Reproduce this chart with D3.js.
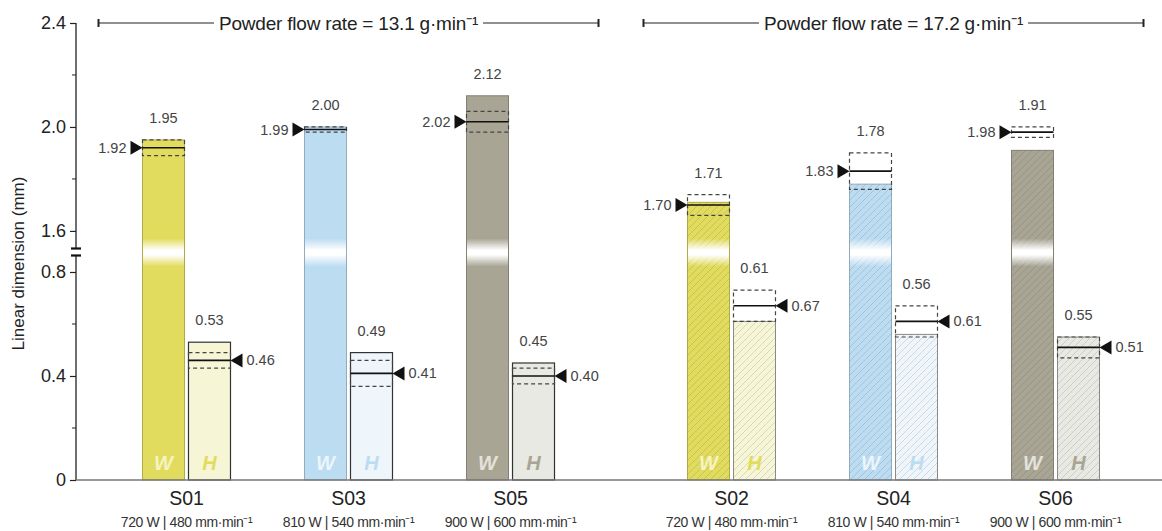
<!DOCTYPE html>
<html><head><meta charset="utf-8">
<script src="https://cdn.jsdelivr.net/npm/d3@7"></script>
<style>
body{margin:0;background:#fff}
text{font-family:"Liberation Sans", Arial, Helvetica, sans-serif}
</style>
</head><body><svg id="c" width="1162" height="531"></svg>
<script>
// ---------- data ----------
const flowRates = ["13.1", "17.2"];
const samples = ["S01", "S03", "S05", "S02", "S04", "S06"];
const sampleFlow = ["13.1", "13.1", "13.1", "17.2", "17.2", "17.2"];
const settings = ["720 W | 480 mm·min⁻¹", "810 W | 540 mm·min⁻¹", "900 W | 600 mm·min⁻¹",
                  "720 W | 480 mm·min⁻¹", "810 W | 540 mm·min⁻¹", "900 W | 600 mm·min⁻¹"];
const measuredW = [1.95, 2.00, 2.12, 1.71, 1.78, 1.91];
const measuredH = [0.53, 0.49, 0.45, 0.61, 0.56, 0.55];
const predictedW = [1.92, 1.99, 2.02, 1.70, 1.83, 1.98];
const predictedH = [0.46, 0.41, 0.40, 0.67, 0.61, 0.51];
const sdW = [0.03, 0.01, 0.04, 0.04, 0.07, 0.02];
const sdH = [0.03, 0.05, 0.03, 0.06, 0.06, 0.04];
const majorTicks = [0, 0.4, 0.8, 1.6, 2.0, 2.4];
const tickLabels = ["0", "0.4", "0.8", "1.6", "2.0", "2.4"];
const minorTicks = [0.2, 0.6, 1.8, 2.2];
const breakLow = 0.875, breakHigh = 1.517;

// ---------- styles ----------
const palW = ["#e2dc5e", "#bcdcf2", "#a8a594"];
const palH = ["#f6f6d7", "#eef6fc", "#e9e9e4"];
const palLetterW = ["#f6f3c2", "#ebf5fc", "#e4e2da"];

const svg = d3.select("#c");
const defs = svg.append("defs");
const hatch = defs.append("pattern").attr("id", "hatch").attr("patternUnits", "userSpaceOnUse")
  .attr("width", 7).attr("height", 7);
hatch.append("path").attr("d", "M-1,1 L1,-1 M0,7 L7,0 M6,8 L8,6")
  .attr("stroke", "rgba(60,60,60,0.2)").attr("stroke-width", 0.8);
const grad = defs.append("linearGradient").attr("id", "brk").attr("x1", 0).attr("x2", 0).attr("y1", 0).attr("y2", 1);
grad.append("stop").attr("offset", "0%").attr("stop-color", "#fff").attr("stop-opacity", 0);
grad.append("stop").attr("offset", "42%").attr("stop-color", "#fff").attr("stop-opacity", 1);
grad.append("stop").attr("offset", "58%").attr("stop-color", "#fff").attr("stop-opacity", 1);
grad.append("stop").attr("offset", "100%").attr("stop-color", "#fff").attr("stop-opacity", 0);

// ---------- scales ----------
const y = d3.scaleLinear().domain([0, breakLow, breakHigh, 2.4]).range([480, 252.5, 252.5, 23]);
const xOuter = d3.scaleBand().domain(flowRates).range([76, 1166]);
const xInner = d3.scaleBand().domain([0, 1, 2]).range([0, xOuter.bandwidth()]).paddingOuter(0.182).paddingInner(0);
const cx = i => xOuter(sampleFlow[i]) + xInner(i % 3) + xInner.bandwidth() / 2;
const barW = 42, gap = 2;

// ---------- axis ----------
const ax = 76;
const yAxis = d3.axisLeft(y).tickValues(majorTicks).tickSize(6)
  .tickFormat((d, i) => tickLabels[i]);
const gAx = svg.append("g").attr("transform", `translate(${ax},0)`).call(yAxis);
gAx.select(".domain").remove();
gAx.selectAll(".tick line").attr("stroke", "#222").attr("stroke-width", 1.2);
gAx.selectAll(".tick text").attr("font-size", 18).attr("fill", "#222").attr("x", -10)
  .attr("font-family", "Liberation Sans, Arial, sans-serif");
svg.append("g").selectAll("line").data(minorTicks).join("line")
  .attr("x1", ax - 4).attr("x2", ax).attr("y1", d => y(d)).attr("y2", d => y(d))
  .attr("stroke", "#222").attr("stroke-width", 1);
const yb = y(breakLow);
svg.append("line").attr("x1", ax).attr("x2", ax).attr("y1", y(2.4)).attr("y2", yb - 4)
  .attr("stroke", "#222").attr("stroke-width", 1.3);
svg.append("line").attr("x1", ax).attr("x2", ax).attr("y1", yb + 3).attr("y2", y(0))
  .attr("stroke", "#222").attr("stroke-width", 1.3);
[yb - 4, yb + 3].forEach(v => svg.append("line").attr("x1", ax - 5).attr("x2", ax + 5)
  .attr("y1", v).attr("y2", v).attr("stroke", "#111").attr("stroke-width", 2.2));
svg.append("text").attr("transform", `translate(24,${(y(2.4) + y(0)) / 2 + 12}) rotate(-90)`)
  .attr("text-anchor", "middle").attr("font-size", 17).attr("fill", "#222")
  .text("Linear dimension (mm)");

// ---------- bars ----------
const gBars = svg.append("g");
samples.forEach((s, i) => {
  const c = cx(i), k = i % 3, hatched = sampleFlow[i] === "17.2";
  const xw = c - gap - barW, xh = c + gap;
  // W bar
  gBars.append("rect").attr("x", xw).attr("y", y(measuredW[i])).attr("width", barW)
    .attr("height", y(0) - y(measuredW[i])).attr("fill", palW[k])
    .attr("stroke", d3.color(palW[k]).darker(0.7)).attr("stroke-width", 1);
  if (hatched) gBars.append("rect").attr("x", xw).attr("y", y(measuredW[i])).attr("width", barW)
    .attr("height", y(0) - y(measuredW[i])).attr("fill", "url(#hatch)");
  gBars.append("rect").attr("x", xw + 0.5).attr("y", yb - 14).attr("width", barW - 1)
    .attr("height", 28).attr("fill", "url(#brk)");
  // H bar
  gBars.append("rect").attr("x", xh).attr("y", y(measuredH[i])).attr("width", barW)
    .attr("height", y(0) - y(measuredH[i])).attr("fill", palH[k])
    .attr("stroke", hatched ? "#8a8a8a" : "#333").attr("stroke-width", hatched ? 1 : 1.2);
  if (hatched) gBars.append("rect").attr("x", xh).attr("y", y(measuredH[i])).attr("width", barW)
    .attr("height", y(0) - y(measuredH[i])).attr("fill", "url(#hatch)");
  // letters
  gBars.append("text").attr("x", xw + barW / 2).attr("y", 470).attr("text-anchor", "middle")
    .attr("font-size", 20).attr("font-weight", "bold").attr("font-style", "italic")
    .attr("fill", palLetterW[k]).text("W");
  gBars.append("text").attr("x", xh + barW / 2).attr("y", 470).attr("text-anchor", "middle")
    .attr("font-size", 20).attr("font-weight", "bold").attr("font-style", "italic")
    .attr("fill", k === 2 ? "#a8a594" : palW[k]).text("H");

  // prediction markers
  [[predictedW[i], sdW[i], xw, measuredW[i], -1], [predictedH[i], sdH[i], xh, measuredH[i], 1]]
    .forEach(([p, sd, x0, m, dir]) => {
      const top = y(p + sd), bot = y(p - sd), yp = y(p);
      gBars.append("rect").attr("x", x0).attr("y", top).attr("width", barW).attr("height", bot - top)
        .attr("fill", "none").attr("stroke", "#444").attr("stroke-width", 1.2).attr("stroke-dasharray", "4,3");
      gBars.append("line").attr("x1", x0).attr("x2", x0 + barW).attr("y1", yp).attr("y2", yp)
        .attr("stroke", "#111").attr("stroke-width", 1.6);
      const tip = dir < 0 ? x0 : x0 + barW;
      const bx = dir < 0 ? tip - 12 : tip + 12;
      gBars.append("path").attr("d", `M${bx},${yp - 7}L${tip},${yp}L${bx},${yp + 7}Z`).attr("fill", "#111");
      gBars.append("text").attr("x", dir < 0 ? tip - 16 : tip + 16).attr("y", yp).attr("dy", "0.35em")
        .attr("text-anchor", dir < 0 ? "end" : "start").attr("font-size", 14.5).attr("fill", "#444")
        .text(p.toFixed(2));
      const labTop = Math.min(y(m), top);
      gBars.append("text").attr("x", x0 + barW / 2).attr("y", labTop - 17).attr("text-anchor", "middle")
        .attr("font-size", 14.5).attr("fill", "#444").text(m.toFixed(2));
    });
});

// ---------- x axis ----------
svg.append("line").attr("x1", ax).attr("x2", 1162).attr("y1", y(0)).attr("y2", y(0))
  .attr("stroke", "#777").attr("stroke-width", 1.5);
samples.forEach((s, i) => {
  svg.append("text").attr("x", cx(i)).attr("y", 505).attr("text-anchor", "middle")
    .attr("font-size", 19.5).attr("fill", "#222").text(s);
  svg.append("text").attr("x", cx(i)).attr("y", 527).attr("text-anchor", "middle")
    .attr("font-size", 14).attr("letter-spacing", -0.4).attr("fill", "#333").text(settings[i]);
});

// ---------- group headers ----------
flowRates.forEach(f => {
  const c = xOuter(f) + xOuter.bandwidth() / 2;
  const half = 250, yy = y(2.4);
  const t = svg.append("text").attr("x", c).attr("y", yy + 6.5).attr("text-anchor", "middle")
    .attr("font-size", 19).attr("letter-spacing", -0.2).attr("fill", "#222").text(`Powder flow rate = ${f} g·min⁻¹`);
  const w = t.node().getComputedTextLength();
  const g = svg.append("g").attr("stroke", "#222").attr("stroke-width", 1.2);
  g.append("line").attr("x1", c - half).attr("x2", c - w / 2 - 5).attr("y1", yy).attr("y2", yy);
  g.append("line").attr("x1", c + w / 2 + 5).attr("x2", c + half).attr("y1", yy).attr("y2", yy);
  g.append("line").attr("x1", c - half).attr("x2", c - half).attr("y1", yy - 4).attr("y2", yy + 4).attr("stroke-width", 2);
  g.append("line").attr("x1", c + half).attr("x2", c + half).attr("y1", yy - 4).attr("y2", yy + 4).attr("stroke-width", 2);
});
</script>
</body></html>
